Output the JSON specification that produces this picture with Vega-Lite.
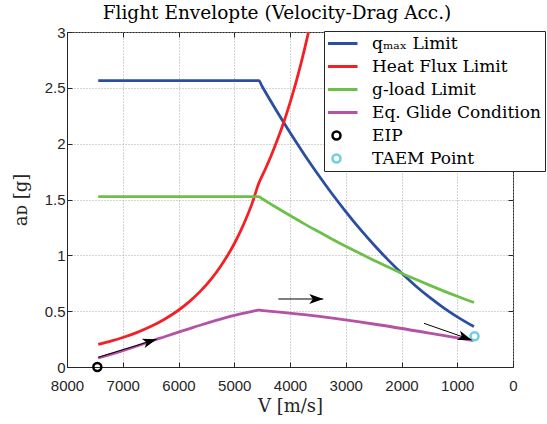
{
  "$schema": "https://vega.github.io/schema/vega-lite/v6.json",
  "width": 446,
  "height": 335,
  "autosize": {"type": "none"},
  "padding": {"left": 67, "top": 32, "right": 34, "bottom": 57},
  "background": "white",
  "title": {"text": "Flight Envelopte (Velocity-Drag Acc.)", "font": "DejaVu Serif", "fontSize": 18.5, "fontWeight": "normal", "color": "#000000", "anchor": "middle", "dx": -13, "offset": 3},
  "config": {"view": {"stroke": "#262626", "strokeWidth": 1}},
  "datasets": {
    "curves": [
      {"series": "qₘₐₓ Limit", "V": 7440, "a": 2.565},
      {"series": "qₘₐₓ Limit", "V": 4560, "a": 2.565},
      {"series": "qₘₐₓ Limit", "V": 4500, "a": 2.513},
      {"series": "qₘₐₓ Limit", "V": 4400, "a": 2.427},
      {"series": "qₘₐₓ Limit", "V": 4250, "a": 2.301},
      {"series": "qₘₐₓ Limit", "V": 4000, "a": 2.1},
      {"series": "qₘₐₓ Limit", "V": 3750, "a": 1.908},
      {"series": "qₘₐₓ Limit", "V": 3500, "a": 1.726},
      {"series": "qₘₐₓ Limit", "V": 3250, "a": 1.554},
      {"series": "qₘₐₓ Limit", "V": 3000, "a": 1.392},
      {"series": "qₘₐₓ Limit", "V": 2750, "a": 1.239},
      {"series": "qₘₐₓ Limit", "V": 2500, "a": 1.097},
      {"series": "qₘₐₓ Limit", "V": 2250, "a": 0.964},
      {"series": "qₘₐₓ Limit", "V": 2000, "a": 0.841},
      {"series": "qₘₐₓ Limit", "V": 1750, "a": 0.728},
      {"series": "qₘₐₓ Limit", "V": 1500, "a": 0.625},
      {"series": "qₘₐₓ Limit", "V": 1250, "a": 0.532},
      {"series": "qₘₐₓ Limit", "V": 1000, "a": 0.449},
      {"series": "qₘₐₓ Limit", "V": 850, "a": 0.404},
      {"series": "qₘₐₓ Limit", "V": 700, "a": 0.362},
      {"series": "Heat Flux Limit", "V": 7440, "a": 0.203},
      {"series": "Heat Flux Limit", "V": 7200, "a": 0.234},
      {"series": "Heat Flux Limit", "V": 7000, "a": 0.264},
      {"series": "Heat Flux Limit", "V": 6750, "a": 0.308},
      {"series": "Heat Flux Limit", "V": 6500, "a": 0.362},
      {"series": "Heat Flux Limit", "V": 6250, "a": 0.428},
      {"series": "Heat Flux Limit", "V": 6033, "a": 0.497},
      {"series": "Heat Flux Limit", "V": 5800, "a": 0.588},
      {"series": "Heat Flux Limit", "V": 5614, "a": 0.675},
      {"series": "Heat Flux Limit", "V": 5400, "a": 0.796},
      {"series": "Heat Flux Limit", "V": 5256, "a": 0.893},
      {"series": "Heat Flux Limit", "V": 5118, "a": 1.0},
      {"series": "Heat Flux Limit", "V": 5000, "a": 1.104},
      {"series": "Heat Flux Limit", "V": 4900, "a": 1.203},
      {"series": "Heat Flux Limit", "V": 4800, "a": 1.314},
      {"series": "Heat Flux Limit", "V": 4676, "a": 1.47},
      {"series": "Heat Flux Limit", "V": 4560, "a": 1.645},
      {"series": "Heat Flux Limit", "V": 4450, "a": 1.764},
      {"series": "Heat Flux Limit", "V": 4350, "a": 1.878},
      {"series": "Heat Flux Limit", "V": 4250, "a": 2.003},
      {"series": "Heat Flux Limit", "V": 4120, "a": 2.18},
      {"series": "Heat Flux Limit", "V": 4000, "a": 2.366},
      {"series": "Heat Flux Limit", "V": 3900, "a": 2.536},
      {"series": "Heat Flux Limit", "V": 3800, "a": 2.724},
      {"series": "Heat Flux Limit", "V": 3700, "a": 2.93},
      {"series": "Heat Flux Limit", "V": 3668, "a": 3.0},
      {"series": "g-load Limit", "V": 7440, "a": 1.525},
      {"series": "g-load Limit", "V": 4560, "a": 1.525},
      {"series": "g-load Limit", "V": 4500, "a": 1.507},
      {"series": "g-load Limit", "V": 4250, "a": 1.43},
      {"series": "g-load Limit", "V": 4000, "a": 1.356},
      {"series": "g-load Limit", "V": 3750, "a": 1.284},
      {"series": "g-load Limit", "V": 3500, "a": 1.215},
      {"series": "g-load Limit", "V": 3250, "a": 1.147},
      {"series": "g-load Limit", "V": 3000, "a": 1.081},
      {"series": "g-load Limit", "V": 2750, "a": 1.018},
      {"series": "g-load Limit", "V": 2500, "a": 0.957},
      {"series": "g-load Limit", "V": 2250, "a": 0.897},
      {"series": "g-load Limit", "V": 2000, "a": 0.84},
      {"series": "g-load Limit", "V": 1750, "a": 0.786},
      {"series": "g-load Limit", "V": 1500, "a": 0.733},
      {"series": "g-load Limit", "V": 1250, "a": 0.682},
      {"series": "g-load Limit", "V": 1000, "a": 0.633},
      {"series": "g-load Limit", "V": 850, "a": 0.605},
      {"series": "g-load Limit", "V": 700, "a": 0.578},
      {"series": "Eq. Glide Condition", "V": 7440, "a": 0.08},
      {"series": "Eq. Glide Condition", "V": 6930, "a": 0.158},
      {"series": "Eq. Glide Condition", "V": 6330, "a": 0.258},
      {"series": "Eq. Glide Condition", "V": 5734, "a": 0.355},
      {"series": "Eq. Glide Condition", "V": 5136, "a": 0.445},
      {"series": "Eq. Glide Condition", "V": 4620, "a": 0.504},
      {"series": "Eq. Glide Condition", "V": 4568, "a": 0.51},
      {"series": "Eq. Glide Condition", "V": 4520, "a": 0.508},
      {"series": "Eq. Glide Condition", "V": 3701, "a": 0.466},
      {"series": "Eq. Glide Condition", "V": 2506, "a": 0.385},
      {"series": "Eq. Glide Condition", "V": 1309, "a": 0.287},
      {"series": "Eq. Glide Condition", "V": 712, "a": 0.236}
    ],
    "points": [
      {"series": "EIP", "V": 7456, "a": 0.0},
      {"series": "TAEM Point", "V": 690, "a": 0.275}
    ],
    "arrows": [
      {"V0": 7439, "a0": 0.087, "V1": 6392, "a1": 0.248, "ang": 343},
      {"V0": 4210, "a0": 0.609, "V1": 3403, "a1": 0.609, "ang": 0},
      {"V0": 1596, "a0": 0.391, "V1": 741, "a1": 0.242, "ang": 19}
    ]
  },
  "resolve": {"axis": {"x": "independent", "y": "independent"}},
  "layer": [
    {
      "data": {"name": "curves"},
      "mark": {"type": "line", "strokeWidth": 2.8, "interpolate": "monotone"},
      "encoding": {
        "x": {"field": "V", "type": "quantitative",
          "scale": {"domain": [0, 8000], "reverse": true, "nice": false, "zero": false},
          "axis": {"orient": "bottom", "values": [0, 1000, 2000, 3000, 4000, 5000, 6000, 7000, 8000], "labelExpr": "'' + datum.value", "labelFont": "Liberation Sans", "labelFontSize": 15, "labelColor": "#262626", "labelPadding": 16, "tickSize": -5, "tickColor": "#262626", "domainColor": "#262626", "grid": true, "gridColor": "#a8a8a8", "gridDash": [1, 2], "title": "V [m/s]", "titleFont": "DejaVu Serif", "titleFontSize": 18, "titleFontWeight": "normal", "titleColor": "#262626", "titlePadding": 4, "labelFlush": false}},
        "y": {"field": "a", "type": "quantitative",
          "scale": {"domain": [0, 3], "nice": false, "zero": false},
          "axis": {"orient": "left", "values": [0, 0.5, 1, 1.5, 2, 2.5, 3], "labelExpr": "'' + datum.value", "labelFont": "Liberation Sans", "labelFontSize": 15, "labelColor": "#262626", "labelPadding": 7, "tickSize": -5, "tickColor": "#262626", "domainColor": "#262626", "grid": true, "gridColor": "#a8a8a8", "gridDash": [1, 2], "title": "aᴅ [g]", "titleFont": "DejaVu Serif", "titleFontSize": 18, "titleFontWeight": "normal", "titleColor": "#262626", "titlePadding": 14, "labelFlush": false}},
        "color": {"field": "series", "type": "nominal",
          "scale": {"domain": ["qₘₐₓ Limit", "Heat Flux Limit", "g-load Limit", "Eq. Glide Condition", "EIP", "TAEM Point"], "range": ["#2b4ea3", "#f22126", "#6cc04a", "#b552a5", "#000000", "#6dcfe0"]},
          "legend": {"orient": "none", "legendX": 257, "legendY": -1, "title": null, "fillColor": "white", "strokeColor": "#262626", "padding": 4, "labelFont": "DejaVu Serif", "labelFontSize": 17, "labelColor": "#000000", "labelLimit": 400, "symbolSize": 1764, "symbolStrokeWidth": 3, "symbolType": "stroke", "clipHeight": 17, "rowPadding": 5, "labelOffset": 27, "cornerRadius": 0,
            "encode": {"symbols": {"update": {
              "shape": {"signal": "indexof(['EIP','TAEM Point'], datum.value) >= 0 ? 'circle' : 'stroke'"},
              "size": {"signal": "indexof(['EIP','TAEM Point'], datum.value) >= 0 ? 64 : 1764"},
              "strokeWidth": {"signal": "indexof(['EIP','TAEM Point'], datum.value) >= 0 ? 2.5 : 3"},
              "fill": {"value": "transparent"},
              "stroke": {"scale": "color", "field": "value"},
              "opacity": {"value": 1}
            }}}}
        }
      }
    },
    {
      "data": {"name": "points"},
      "mark": {"type": "point", "filled": false, "strokeWidth": 2.5, "size": 64, "opacity": 1},
      "encoding": {
        "x": {"field": "V", "type": "quantitative",
          "axis": {"orient": "top", "values": [0, 1000, 2000, 3000, 4000, 5000, 6000, 7000, 8000], "labels": false, "domain": false, "grid": false, "tickSize": -5, "tickColor": "#262626", "title": null}},
        "y": {"field": "a", "type": "quantitative",
          "axis": {"orient": "right", "values": [0, 0.5, 1, 1.5, 2, 2.5, 3], "labels": false, "domain": false, "grid": false, "tickSize": -5, "tickColor": "#262626", "title": null}},
        "color": {"field": "series", "type": "nominal"}
      }
    },
    {
      "data": {"name": "arrows"},
      "mark": {"type": "rule", "color": "#000000", "strokeWidth": 1},
      "encoding": {
        "x": {"field": "V0", "type": "quantitative", "axis": null},
        "y": {"field": "a0", "type": "quantitative", "axis": null},
        "x2": {"field": "V1"},
        "y2": {"field": "a1"}
      }
    },
    {
      "data": {"name": "arrows"},
      "mark": {"type": "point", "shape": "M0,0L-2,-0.7L-1.5,0L-2,0.7Z", "filled": true, "color": "#000000", "size": 196, "opacity": 1, "strokeWidth": 0},
      "encoding": {
        "x": {"field": "V1", "type": "quantitative", "axis": null},
        "y": {"field": "a1", "type": "quantitative", "axis": null},
        "angle": {"field": "ang", "type": "quantitative", "scale": null}
      }
    }
  ]
}
